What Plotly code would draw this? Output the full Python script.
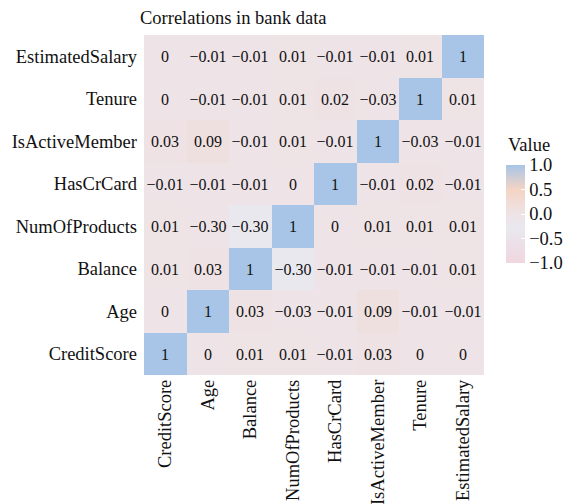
import plotly.graph_objects as go

variables = ["CreditScore", "Age", "Balance", "NumOfProducts",
             "HasCrCard", "IsActiveMember", "Tenure", "EstimatedSalary"]

# rows listed bottom (CreditScore) to top (EstimatedSalary), columns in same order
corr = [
    [1, 0, 0.01, 0.01, -0.01, 0.03, 0, 0],                 # CreditScore
    [0, 1, 0.03, -0.03, -0.01, 0.09, -0.01, -0.01],        # Age
    [0.01, 0.03, 1, -0.30, -0.01, -0.01, -0.01, 0.01],     # Balance
    [0.01, -0.03, -0.30, 1, 0, 0.01, 0.01, 0.01],          # NumOfProducts
    [-0.01, -0.01, -0.01, 0, 1, -0.01, 0.02, -0.01],       # HasCrCard
    [0.03, 0.09, -0.01, 0.01, -0.01, 1, -0.03, -0.01],     # IsActiveMember
    [0, -0.01, -0.01, 0.01, 0.02, -0.03, 1, 0.01],         # Tenure
    [0, -0.01, -0.01, 0.01, -0.01, -0.01, 0.01, 1],        # EstimatedSalary
]

cell_labels = [
    ["1", "0", "0.01", "0.01", "−0.01", "0.03", "0", "0"],
    ["0", "1", "0.03", "−0.03", "−0.01", "0.09", "−0.01", "−0.01"],
    ["0.01", "0.03", "1", "−0.30", "−0.01", "−0.01", "−0.01", "0.01"],
    ["0.01", "−0.30", "−0.30", "1", "0", "0.01", "0.01", "0.01"],
    ["−0.01", "−0.01", "−0.01", "0", "1", "−0.01", "0.02", "−0.01"],
    ["0.03", "0.09", "−0.01", "0.01", "−0.01", "1", "−0.03", "−0.01"],
    ["0", "−0.01", "−0.01", "0.01", "0.02", "−0.03", "1", "0.01"],
    ["0", "−0.01", "−0.01", "0.01", "−0.01", "−0.01", "0.01", "1"],
]

colorbar_ticks = [-1.0, -0.5, 0.0, 0.5, 1.0]
colorbar_ticktext = ["−1.0", "−0.5", "0.0", "0.5", "1.0"]

FONT = "Liberation Serif"
INK = "#111111"
SIZE = 18.5

colorscale = [
    [0.0, "#f0d6df"],
    [0.25, "#ebe2ea"],
    [0.35, "#e9e8ef"],
    [0.5, "#eee3e6"],
    [0.75, "#f4d4c4"],
    [1.0, "#a8c5e7"],
]

fig = go.Figure(go.Heatmap(
    z=corr,
    x=variables,
    y=variables,
    text=cell_labels,
    texttemplate="%{text}",
    textfont=dict(family=FONT, size=16, color=INK),
    zmin=-1, zmax=1,
    colorscale=colorscale,
    xgap=0, ygap=0,
    hoverinfo="skip",
    colorbar=dict(
        tickvals=colorbar_ticks,
        ticktext=colorbar_ticktext,
        tickfont=dict(family=FONT, size=SIZE, color=INK),
        thickness=19,
        len=98, lenmode="pixels",
        x=1.065, xanchor="left",
        y=0.4735, yanchor="middle",
        outlinewidth=0,
        ticks="inside", ticklen=4, tickcolor="white", tickwidth=1,
        ypad=0, xpad=0,
    ),
))

# colorbar title as a text label above the bar
fig.add_annotation(
    text="Value", xref="paper", yref="paper",
    x=1.065, y=0.676, xanchor="left", yanchor="middle",
    showarrow=False, font=dict(family=FONT, size=SIZE, color=INK),
)

# the page body has an 8px margin, so the figure is sized/offset to compensate
fig.update_layout(
    width=568, height=496,
    margin=dict(l=136, r=92, t=27, b=129, autoexpand=False),
    paper_bgcolor="white",
    plot_bgcolor="white",
    font=dict(family=FONT, size=SIZE, color=INK),
    title=dict(
        text="Correlations in bank data",
        font=dict(family=FONT, size=SIZE, color=INK),
        x=132 / 568, xanchor="left", xref="container",
        y=1 - 10 / 496, yanchor="middle", yref="container",
    ),
    xaxis=dict(
        tickangle=-90, showgrid=False, zeroline=False, showline=False,
        ticks="", tickfont=dict(family=FONT, size=SIZE, color=INK),
        automargin=False,
    ),
    yaxis=dict(
        showgrid=False, zeroline=False, showline=False,
        ticks="", tickfont=dict(family=FONT, size=SIZE, color=INK),
        ticklabelstandoff=6, automargin=False,
    ),
)

fig.write_html("out.html")
